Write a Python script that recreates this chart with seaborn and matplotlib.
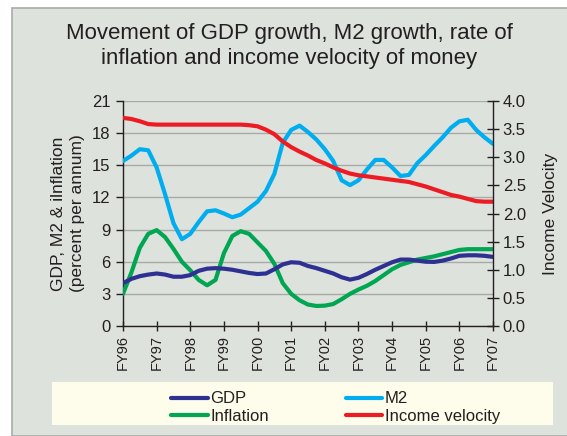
import numpy as np
import pandas as pd
import matplotlib
matplotlib.use("Agg")
import matplotlib.pyplot as plt
from matplotlib.patches import Rectangle
from matplotlib.lines import Line2D
import seaborn as sns

# ---- data (quarterly resolution) ----
year_labels = ["FY96", "FY97", "FY98", "FY99", "FY00", "FY01",
               "FY02", "FY03", "FY04", "FY05", "FY06", "FY07"]
quarter_pos = np.arange(45) / 4.0

gdp = [4.0, 4.4, 4.65, 4.8, 4.9, 4.8, 4.6, 4.6, 4.75, 5.15, 5.35, 5.4,
       5.35, 5.25, 5.1, 4.95, 4.85, 4.9, 5.3, 5.75, 5.95, 5.9, 5.6, 5.4,
       5.15, 4.9, 4.55, 4.33, 4.5, 4.85, 5.25, 5.6, 5.95, 6.2, 6.2, 6.1,
       6.0, 5.98, 6.1, 6.3, 6.55, 6.6, 6.6, 6.55, 6.45]

inflation = [3.0, 5.0, 7.3, 8.6, 8.95, 8.3, 7.2, 6.0, 5.2, 4.3, 3.8, 4.3,
             6.8, 8.4, 8.85, 8.6, 7.8, 7.0, 5.8, 4.0, 3.0, 2.4, 2.0, 1.87,
             1.9, 2.05, 2.5, 3.0, 3.4, 3.75, 4.2, 4.75, 5.3, 5.7, 5.95, 6.2,
             6.35, 6.5, 6.7, 6.9, 7.1, 7.17, 7.17, 7.17, 7.17]

m2 = [15.4, 15.9, 16.5, 16.4, 14.8, 12.3, 9.6, 8.1, 8.6, 9.7, 10.7, 10.8,
      10.5, 10.15, 10.4, 11.0, 11.6, 12.6, 14.2, 17.1, 18.3, 18.7, 18.1, 17.4,
      16.5, 15.4, 13.6, 13.15, 13.6, 14.6, 15.5, 15.5, 14.8, 14.0, 14.1, 15.2,
      15.95, 16.8, 17.6, 18.5, 19.1, 19.25, 18.3, 17.6, 17.0]

velocity = [3.70, 3.68, 3.64, 3.59, 3.58, 3.58, 3.58, 3.58, 3.58, 3.58, 3.58, 3.58,
            3.58, 3.58, 3.58, 3.57, 3.55, 3.49, 3.41, 3.28, 3.18, 3.10, 3.03, 2.95,
            2.89, 2.82, 2.76, 2.71, 2.68, 2.66, 2.64, 2.62, 2.60, 2.58, 2.56, 2.52,
            2.48, 2.43, 2.38, 2.33, 2.30, 2.26, 2.22, 2.21, 2.21]

left_ticks = [0, 3, 6, 9, 12, 15, 18, 21]
right_ticks = [0.0, 0.5, 1.0, 1.5, 2.0, 2.5, 3.0, 3.5, 4.0]

# ---- style ----
sns.set_style("ticks")
plt.rcParams["font.family"] = ["Liberation Sans", "DejaVu Sans"]

C_GDP = "#2e3192"
C_M2 = "#00aeef"
C_INF = "#00a651"
C_VEL = "#ed1c24"
PANEL = "#dde2dd"
TXT = "#231f20"

W, H = 567, 436
fig = plt.figure(figsize=(W / 100, H / 100), dpi=100)
fig.patch.set_facecolor("white")

# grey panel
fig.add_artist(Rectangle((11.5 / W, 0), (W - 11.5) / W + 0.01, (H - 8) / H,
                         transform=fig.transFigure, facecolor=PANEL,
                         edgecolor="#a9aca9", linewidth=1.2, zorder=0))
# legend background
fig.add_artist(Rectangle((52 / W, 1 - 425 / H), (553 - 52) / W, 43 / H,
                         transform=fig.transFigure, facecolor="#fefceb",
                         edgecolor="none", zorder=1))

ax = fig.add_axes([123 / W, 1 - 326 / H, (493 - 123) / W, (326 - 101) / H])
ax.patch.set_alpha(0)
ax2 = ax.twinx()

df = pd.DataFrame({"t": quarter_pos, "GDP": gdp, "Inflation": inflation,
                   "M2": m2, "Income velocity": velocity})

lw = 3.0
sns.lineplot(data=df, x="t", y="M2", ax=ax, color=C_M2, linewidth=lw, zorder=3)
sns.lineplot(data=df, x="t", y="Inflation", ax=ax, color=C_INF, linewidth=lw, zorder=4)
sns.lineplot(data=df, x="t", y="GDP", ax=ax, color=C_GDP, linewidth=lw, zorder=5)
sns.lineplot(data=df, x="t", y="Income velocity", ax=ax2, color=C_VEL, linewidth=lw)

ax.set_xlim(0, len(year_labels) - 1)
ax.set_ylim(0, 21)
ax2.set_ylim(0, 4)
ax.set_yticks(left_ticks)
ax.set_yticklabels([str(v) for v in left_ticks])
ax2.set_yticks(right_ticks)
ax2.set_yticklabels([f"{v:.1f}" for v in right_ticks])
ax.set_xticks(range(len(year_labels)))
ax.set_xticklabels(year_labels, rotation=90)

ax.grid(axis="y", color="#a7aaa7", linewidth=1.0)
ax.grid(axis="x", visible=False)
ax2.grid(False)
ax.set_axisbelow(True)

for a in (ax, ax2):
    a.spines["top"].set_visible(False)
    for s in ("left", "right", "bottom"):
        a.spines[s].set_color("#231f20")
        a.spines[s].set_linewidth(1.0)
ax.spines["right"].set_visible(False)
ax2.spines["left"].set_visible(False)
ax2.spines["bottom"].set_visible(False)

ax.tick_params(axis="y", direction="out", length=5, width=1, colors="#231f20",
               labelsize=12, labelcolor=TXT, pad=4)
ax.tick_params(axis="x", direction="inout", length=7, width=1, colors="#231f20",
               labelsize=10.5, labelcolor=TXT, pad=3)
ax2.tick_params(axis="y", direction="inout", length=8, width=1, colors="#231f20",
                labelsize=12, labelcolor=TXT, pad=3)

ax.set_xlabel("")
ax.set_ylabel("GDP, M2 & ilnflation\n(percent per annum)", fontsize=12.5,
              color=TXT, labelpad=5, linespacing=1.3)
ax2.set_ylabel("Income Velocity", fontsize=12.5, color=TXT, labelpad=12)

fig.text(289 / W, 1 - 46 / H,
         "Movement of GDP growth, M2 growth, rate of\ninflation and income velocity of money",
         ha="center", va="center", fontsize=16, color=TXT, linespacing=1.3)

handles = [Line2D([], [], color=C_GDP, linewidth=lw),
           Line2D([], [], color=C_INF, linewidth=lw),
           Line2D([], [], color=C_M2, linewidth=lw),
           Line2D([], [], color=C_VEL, linewidth=lw)]
labels = ["GDP", "Inflation", "M2", "Income velocity"]
leg = fig.legend(handles, labels, ncol=2, loc="upper left",
                 bbox_to_anchor=(158 / W, 1 - 378 / H), frameon=False,
                 fontsize=12, handlelength=2.2, handletextpad=0.15,
                 columnspacing=4.6, labelspacing=0.15, borderpad=0.3)
for t in leg.get_texts():
    t.set_color(TXT)

fig.savefig("out.png", dpi=100)
